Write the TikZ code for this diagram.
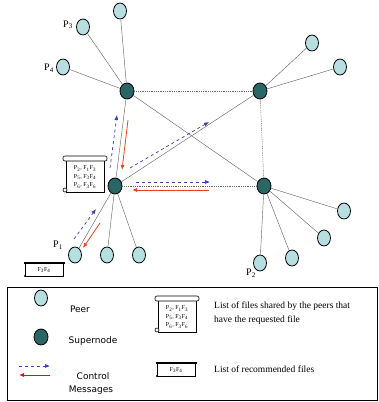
\documentclass[tikz,border=0pt]{standalone}
\usepackage{fontspec}
\setmainfont{Liberation Serif}
\newfontfamily\legendfont{DejaVu Sans}
\usetikzlibrary{shapes.geometric,arrows.meta}
\definecolor{peercol}{RGB}{183,222,225}
\definecolor{supercol}{RGB}{42,102,102}
\definecolor{ctrlblue}{RGB}{60,60,175}
\definecolor{ctrlred}{RGB}{225,70,30}
\tikzset{
  peer/.style={ellipse,draw,line width=0.8pt,fill=peercol,minimum width=13pt,minimum height=16pt,inner sep=0pt},
  supernode/.style={ellipse,draw,line width=0.8pt,fill=supercol,minimum width=14pt,minimum height=16pt,inner sep=0pt},
  link/.style={gray!80!black,line width=0.45pt},
  backbone/.style={link,dash pattern=on 1pt off 0.8pt},
  req/.style={ctrlblue,dashed,line width=0.7pt,-{Latex[length=5pt,width=4pt]}},
  resp/.style={ctrlred,line width=0.8pt,-{Latex[length=5pt,width=4pt]}},
  plabel/.style={font=\fontsize{10}{11}\selectfont,inner sep=0pt},
  legtext/.style={font=\legendfont\fontsize{9}{11}\selectfont,inner sep=0pt},
  doctext/.style={font=\fontsize{9.5}{11}\selectfont,inner sep=0pt,anchor=west},
  scroll/.pic={
    \draw[fill=white,line width=0.6pt] (-19,-15) rectangle (19,17);
    \draw[fill=white,line width=0.6pt,rounded corners=2pt] (-22,-19) rectangle (22,-14);
    \draw[fill=white,line width=0.6pt] (-20,15) circle (2);
    \node[font=\fontsize{6}{8.5}\selectfont,align=center] (-text) at (0,2)
      {P\textsubscript{2}, F\textsubscript{1}F\textsubscript{3}\\
       P\textsubscript{5}, F\textsubscript{3}F\textsubscript{4}\\
       P\textsubscript{6}, F\textsubscript{3}F\textsubscript{6}};
  },
  reclist/.pic={
    \draw[fill=white,line width=0.6pt] (-19,-6) rectangle (19,7);
    \draw[line width=1.2pt] (-20,-6) -- (21,-6);
    \fill (-19,7) circle (1.2);
    \node[font=\fontsize{6}{7}\selectfont] (-text) at (0,1) {F\textsubscript{3}F\textsubscript{4}};
  }
}
\begin{document}
\begin{tikzpicture}[x=1pt,y=-1pt]
  \useasboundingbox (0,0) rectangle (378,402);

  % supernodes
  \node[supernode] (sa) at (127,91) {};
  \node[supernode] (sb) at (260,91) {};
  \node[supernode] (sc) at (115,186) {};
  \node[supernode] (sd) at (264,186) {};

  % peers
  \node[peer] (pa) at (120,11) {};
  \node[peer] (p3) at (83,27) {};
  \node[peer] (p4) at (63,67) {};
  \node[peer] (pb1) at (312,43) {};
  \node[peer] (pb2) at (340,67) {};
  \node[peer] (p1) at (75,255) {};
  \node[peer] (pc2) at (107,255) {};
  \node[peer] (pc3) at (139,255) {};
  \node[peer] (pd1) at (344,211) {};
  \node[peer] (pd2) at (324,238) {};
  \node[peer] (pd3) at (292,258) {};
  \node[peer] (p2) at (260,263) {};

  \node[plabel] (lp3) at (68,25) {P\textsubscript{3}};
  \node[plabel] (lp4) at (49,68) {P\textsubscript{4}};
  \node[plabel] (lp1) at (58,245) {P\textsubscript{1}};
  \node[plabel] (lp2) at (251,273) {P\textsubscript{2}};

  % overlay links
  \draw[backbone] (sa) -- (sb);
  \draw[backbone] (sb) -- (sd);
  \draw[backbone] (sc) -- (sd);
  \draw[link] (sa) -- (sc);
  \draw[link] (sa) -- (sd);
  \draw[link] (sc) -- (sb);

  % peer links
  \foreach \p in {pa,p3,p4} \draw[link] (sa) -- (\p);
  \foreach \p in {pb1,pb2} \draw[link] (sb) -- (\p);
  \foreach \p in {p1,pc2,pc3} \draw[link] (sc) -- (\p);
  \foreach \p in {pd1,pd2,pd3,p2} \draw[link] (sd) -- (\p);

  % control messages
  \coordinate (q1s) at (74,239);  \coordinate (q1e) at (96,209);
  \coordinate (r1s) at (100,223); \coordinate (r1e) at (83,248);
  \coordinate (q2s) at (110,168); \coordinate (q2e) at (117,115);
  \coordinate (r2s) at (128,120); \coordinate (r2e) at (122,170);
  \coordinate (q3s) at (130,168); \coordinate (q3e) at (209,122);
  \coordinate (q4s) at (136,182); \coordinate (q4e) at (210,182);
  \coordinate (r4s) at (209,190); \coordinate (r4e) at (132,190);
  \draw[req] (q1s) -- (q1e);
  \draw[resp] (r1s) -- (r1e);
  \draw[req] (q2s) -- (q2e);
  \draw[resp] (r2s) -- (r2e);
  \draw[req] (q3s) -- (q3e);
  \draw[req] (q4s) -- (q4e);
  \draw[resp] (r4s) -- (r4e);

  % file lists
  \pic (sl) at (85,175) {scroll};
  \pic (rl) at (44,269) {reclist};

  % legend
  \draw[line width=0.9pt] (7,287) rectangle (377,400);
  \node[peer] (lgpeer) at (41,298) {};
  \node[legtext] (lgpeertxt) at (80,309) {Peer};
  \node[supernode] (lgsuper) at (41,337) {};
  \node[legtext] (lgsupertxt) at (93,341) {Supernode};
  \coordinate (lgqs) at (19,366); \coordinate (lgqe) at (50,366);
  \coordinate (lgrs) at (50,375); \coordinate (lgre) at (19,375);
  \draw[req] (lgqs) -- (lgqe);
  \draw[resp,red] (lgrs) -- (lgre);
  \node[legtext] (lgctrl) at (93,376) {Control};
  \node[legtext] (lgmsg) at (91,390) {Messages};
  \pic (lgsl) at (177,315) {scroll};
  \node[doctext] (lgsltxt1) at (214,306) {List of files shared by the peers that};
  \node[doctext] (lgsltxt2) at (214,320) {have the requested file};
  \pic (lgrl) at (176,369) {reclist};
  \node[doctext] (lgrltxt) at (214,369) {List of recommended files};
\end{tikzpicture}
\end{document}
